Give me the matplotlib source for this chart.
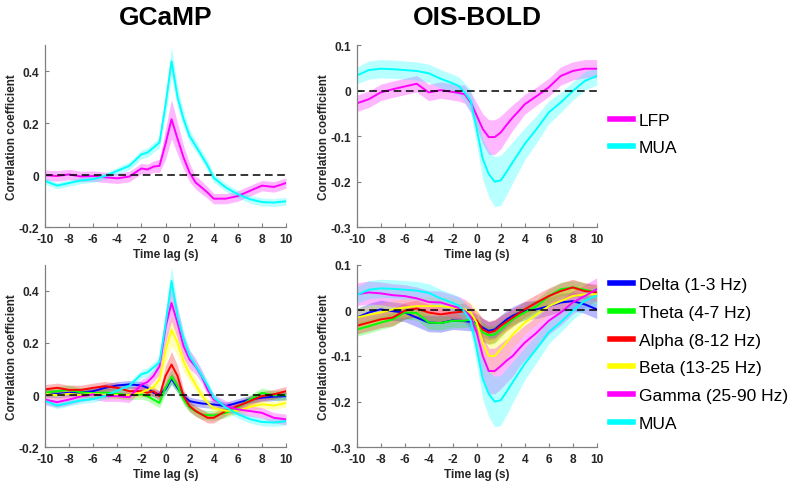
import matplotlib
matplotlib.use("Agg")
import matplotlib.pyplot as plt
from matplotlib.lines import Line2D
import numpy as np

plt.rcParams['font.family'] = ['Liberation Sans', 'DejaVu Sans']

# ---------------- data ----------------
lag = [-10, -9, -8, -7, -6, -5, -4, -3, -2, -1.5, -1, -0.5, 0, 0.5, 1, 1.5, 2, 2.5, 3, 3.5, 4, 5, 6, 7, 8, 9, 10]

# GCaMP – top
gc_lfp = [0.0, -0.003, 0.003, -0.005, -0.003, -0.008, -0.012, -0.005, 0.026, 0.022, 0.033, 0.036, 0.12, 0.215, 0.14, 0.068, 0.01, -0.028, -0.047, -0.067, -0.09, -0.09, -0.08, -0.06, -0.04, -0.045, -0.03]
gc_lfp_err = [0.02, 0.02, 0.02, 0.02, 0.02, 0.02, 0.02, 0.02, 0.02, 0.02, 0.022, 0.025, 0.06, 0.075, 0.06, 0.045, 0.035, 0.025, 0.025, 0.022, 0.02, 0.02, 0.02, 0.02, 0.02, 0.02, 0.02]
gc_mua = [-0.022, -0.04, -0.03, -0.02, -0.015, -0.003, 0.017, 0.036, 0.08, 0.087, 0.106, 0.126, 0.27, 0.437, 0.3, 0.215, 0.15, 0.113, 0.075, 0.036, -0.01, -0.047, -0.073, -0.092, -0.103, -0.105, -0.1]
gc_mua_err = [0.012, 0.012, 0.012, 0.012, 0.012, 0.012, 0.013, 0.015, 0.016, 0.018, 0.018, 0.02, 0.04, 0.055, 0.04, 0.03, 0.025, 0.02, 0.02, 0.02, 0.016, 0.015, 0.015, 0.015, 0.015, 0.015, 0.015]

# GCaMP – bottom (bands)
gc_delta = [0.009, 0.005, 0.009, 0.01, 0.015, 0.028, 0.037, 0.041, 0.037, 0.028, 0.009, 0.003, 0.022, 0.063, 0.028, -0.004, -0.023, -0.028, -0.032, -0.034, -0.036, -0.042, -0.029, -0.017, -0.01, -0.006, -0.004]
gc_delta_err = [0.015, 0.015, 0.015, 0.015, 0.015, 0.015, 0.015, 0.015, 0.015, 0.015, 0.015, 0.015, 0.018, 0.02, 0.018, 0.015, 0.015, 0.015, 0.015, 0.015, 0.015, 0.015, 0.015, 0.015, 0.015, 0.015, 0.015]
gc_theta = [0.009, 0.015, 0.02, 0.01, 0.008, 0.01, 0.005, 0.0, 0.003, -0.004, -0.017, -0.03, 0.028, 0.07, 0.034, -0.017, -0.048, -0.062, -0.074, -0.077, -0.078, -0.068, -0.048, -0.017, 0.009, -0.001, 0.0]
gc_theta_err = [0.018, 0.018, 0.018, 0.018, 0.018, 0.018, 0.018, 0.018, 0.018, 0.018, 0.018, 0.018, 0.025, 0.03, 0.025, 0.02, 0.018, 0.018, 0.018, 0.018, 0.018, 0.018, 0.018, 0.018, 0.018, 0.018, 0.018]
gc_alpha = [0.022, 0.028, 0.02, 0.02, 0.028, 0.034, 0.028, 0.015, 0.015, 0.009, 0.015, -0.004, 0.073, 0.117, 0.073, -0.004, -0.042, -0.061, -0.074, -0.087, -0.087, -0.061, -0.042, -0.023, -0.004, 0.003, 0.015]
gc_alpha_err = [0.018, 0.018, 0.018, 0.018, 0.018, 0.018, 0.018, 0.018, 0.018, 0.018, 0.018, 0.018, 0.04, 0.05, 0.04, 0.025, 0.02, 0.02, 0.02, 0.02, 0.02, 0.018, 0.018, 0.018, 0.018, 0.018, 0.018]
gc_beta = [0.005, 0.0, 0.005, 0.0, 0.005, 0.0, 0.0, 0.0, 0.01, 0.02, 0.03, 0.06, 0.17, 0.25, 0.2, 0.13, 0.08, 0.04, 0.0, -0.03, -0.05, -0.06, -0.06, -0.045, -0.035, -0.04, -0.03]
gc_beta_err = [0.015, 0.015, 0.015, 0.015, 0.015, 0.015, 0.015, 0.015, 0.015, 0.018, 0.02, 0.03, 0.05, 0.06, 0.05, 0.04, 0.03, 0.025, 0.02, 0.018, 0.015, 0.015, 0.015, 0.015, 0.015, 0.015, 0.015]
gc_gamma = [-0.017, -0.027, -0.017, -0.005, 0.003, -0.004, -0.004, -0.008, 0.04, 0.05, 0.073, 0.11, 0.26, 0.353, 0.276, 0.187, 0.136, 0.11, 0.073, 0.02, -0.017, -0.042, -0.055, -0.061, -0.068, -0.087, -0.093]
gc_gamma_err = [0.02, 0.02, 0.02, 0.02, 0.02, 0.02, 0.02, 0.02, 0.02, 0.02, 0.022, 0.03, 0.06, 0.07, 0.06, 0.045, 0.035, 0.03, 0.025, 0.022, 0.02, 0.02, 0.02, 0.02, 0.02, 0.02, 0.02]

# OIS-BOLD – top
ob_lfp = [-0.028, -0.019, -0.004, 0.003, 0.009, 0.015, -0.004, 0.001, -0.003, -0.005, -0.008, -0.026, -0.055, -0.084, -0.102, -0.102, -0.092, -0.075, -0.059, -0.045, -0.03, -0.012, 0.007, 0.032, 0.043, 0.048, 0.048]
ob_lfp_err = [0.018, 0.018, 0.018, 0.018, 0.018, 0.018, 0.018, 0.018, 0.018, 0.018, 0.02, 0.022, 0.028, 0.033, 0.038, 0.038, 0.036, 0.032, 0.028, 0.025, 0.022, 0.02, 0.02, 0.02, 0.02, 0.02, 0.02]
ob_mua = [0.033, 0.045, 0.048, 0.047, 0.045, 0.043, 0.038, 0.026, 0.016, 0.01, -0.004, -0.023, -0.084, -0.15, -0.183, -0.2, -0.197, -0.178, -0.157, -0.137, -0.117, -0.084, -0.048, -0.026, -0.001, 0.021, 0.032]
ob_mua_err = [0.018, 0.02, 0.02, 0.02, 0.02, 0.02, 0.02, 0.02, 0.02, 0.02, 0.02, 0.025, 0.035, 0.045, 0.05, 0.055, 0.055, 0.05, 0.045, 0.04, 0.035, 0.03, 0.025, 0.022, 0.02, 0.02, 0.02]

# OIS-BOLD – bottom (bands)
ob_delta = [-0.016, -0.005, 0.002, -0.002, -0.005, -0.016, -0.027, -0.028, -0.022, -0.023, -0.024, -0.025, -0.027, -0.038, -0.045, -0.042, -0.031, -0.02, -0.012, -0.006, -0.001, 0.002, 0.009, 0.017, 0.02, 0.013, 0.002]
ob_delta_err = [0.02, 0.02, 0.02, 0.02, 0.02, 0.02, 0.02, 0.02, 0.02, 0.02, 0.02, 0.02, 0.02, 0.02, 0.02, 0.02, 0.02, 0.02, 0.02, 0.02, 0.02, 0.02, 0.02, 0.02, 0.02, 0.02, 0.02]
ob_theta = [-0.042, -0.035, -0.027, -0.02, -0.005, -0.006, -0.027, -0.028, -0.023, -0.023, -0.023, -0.02, -0.034, -0.048, -0.055, -0.053, -0.042, -0.03, -0.02, -0.012, -0.005, 0.009, 0.031, 0.046, 0.05, 0.045, 0.039]
ob_theta_err = [0.015, 0.015, 0.015, 0.015, 0.015, 0.015, 0.015, 0.015, 0.015, 0.015, 0.015, 0.015, 0.018, 0.02, 0.02, 0.02, 0.018, 0.015, 0.015, 0.015, 0.015, 0.015, 0.015, 0.015, 0.015, 0.015, 0.015]
ob_alpha = [-0.034, -0.027, -0.02, -0.016, -0.001, 0.004, -0.005, -0.009, -0.005, -0.004, -0.002, -0.015, -0.023, -0.042, -0.049, -0.045, -0.034, -0.025, -0.016, -0.007, 0.002, 0.017, 0.031, 0.042, 0.05, 0.042, 0.039]
ob_alpha_err = [0.018, 0.018, 0.018, 0.018, 0.018, 0.018, 0.018, 0.018, 0.018, 0.018, 0.018, 0.02, 0.022, 0.025, 0.025, 0.025, 0.022, 0.02, 0.02, 0.018, 0.018, 0.018, 0.018, 0.018, 0.018, 0.018, 0.018]
ob_beta = [-0.016, -0.01, -0.005, 0.002, 0.006, 0.009, 0.009, 0.009, 0.006, 0.004, 0.002, -0.005, -0.027, -0.071, -0.1, -0.1, -0.085, -0.07, -0.053, -0.04, -0.027, -0.009, 0.009, 0.02, 0.031, 0.035, 0.035]
ob_beta_err = [0.02, 0.02, 0.02, 0.02, 0.02, 0.02, 0.02, 0.02, 0.02, 0.02, 0.02, 0.022, 0.028, 0.035, 0.04, 0.04, 0.038, 0.035, 0.03, 0.028, 0.025, 0.022, 0.02, 0.02, 0.02, 0.02, 0.02]
ob_gamma = [0.035, 0.039, 0.037, 0.033, 0.031, 0.026, 0.018, 0.017, 0.009, 0.005, -0.001, -0.015, -0.049, -0.1, -0.133, -0.133, -0.122, -0.11, -0.1, -0.085, -0.071, -0.049, -0.023, -0.005, 0.017, 0.031, 0.046]
ob_gamma_err = [0.025, 0.025, 0.025, 0.025, 0.025, 0.025, 0.025, 0.025, 0.025, 0.025, 0.025, 0.028, 0.035, 0.045, 0.05, 0.05, 0.05, 0.048, 0.045, 0.04, 0.038, 0.035, 0.03, 0.028, 0.025, 0.025, 0.025]

top_labels = ['LFP', 'MUA']
band_labels = ['Delta (1-3 Hz)', 'Theta (4-7 Hz)', 'Alpha (8-12 Hz)', 'Beta (13-25 Hz)', 'Gamma (25-90 Hz)', 'MUA']
xticks = [-10, -8, -6, -4, -2, 0, 2, 4, 6, 8, 10]
gc_yticks = [-0.2, 0, 0.2, 0.4]
gc_yticklabels = ['-0.2', '0', '0.2', '0.4']
ob_yticks = [-0.3, -0.2, -0.1, 0, 0.1]
ob_yticklabels = ['-0.3', '-0.2', '-0.1', '0', '0.1']

# ---------------- style ----------------
C_MAG = '#FF00FF'
C_CYA = '#00FFFF'
C_BLU = '#0000FF'
C_GRN = '#00FF00'
C_RED = '#FF0000'
C_YEL = '#FFFF00'
SPINE = '#808080'
ALPHA = 0.28
LW = 1.4

fig = plt.figure(figsize=(8.0, 4.89), dpi=100)

ax_tl = fig.add_axes([0.05625, 0.5331, 0.30125, 0.3728])
ax_tr = fig.add_axes([0.4459, 0.5331, 0.3000, 0.3728])
ax_bl = fig.add_axes([0.05625, 0.0832, 0.30125, 0.3737])
ax_br = fig.add_axes([0.4459, 0.0832, 0.3000, 0.3737])

x = np.array(lag)


def draw(ax, series, ylim, yticks, yticklabels, xlabel):
    for y, e, c in series:
        y = np.array(y)
        e = np.array(e)
        ax.fill_between(x, y - e, y + e, color=c, alpha=ALPHA, lw=0)
        ax.plot(x, y, color=c, lw=LW)
    ax.plot([-10, 10], [0, 0], color='black', lw=1.1, ls=(0, (5, 3)))
    ax.set_xlim(-10, 10)
    ax.set_ylim(*ylim)
    ax.set_xticks(xticks)
    ax.set_xticklabels([str(t) for t in xticks])
    ax.set_yticks(yticks)
    ax.set_yticklabels(yticklabels)
    for s in ['top', 'right']:
        ax.spines[s].set_visible(False)
    for s in ['left', 'bottom']:
        ax.spines[s].set_color(SPINE)
        ax.spines[s].set_linewidth(0.9)
    ax.tick_params(direction='in', length=3, width=0.8, color=SPINE,
                   labelsize=8.6, labelcolor='#262626', pad=4)
    for lab in ax.get_xticklabels() + ax.get_yticklabels():
        lab.set_fontweight('bold')
    ax.set_ylabel('Correlation coefficient', fontsize=8.5, fontweight='bold',
                  color='#262626', labelpad=0.5)
    if xlabel:
        ax.set_xlabel('Time lag (s)', fontsize=8.5, fontweight='bold',
                      color='#262626', labelpad=2)


draw(ax_tl, [(gc_lfp, gc_lfp_err, C_MAG), (gc_mua, gc_mua_err, C_CYA)],
     (-0.2, 0.5), gc_yticks, gc_yticklabels, True)
draw(ax_tr, [(ob_lfp, ob_lfp_err, C_MAG), (ob_mua, ob_mua_err, C_CYA)],
     (-0.3, 0.1), ob_yticks, ob_yticklabels, True)
draw(ax_bl, [(gc_delta, gc_delta_err, C_BLU), (gc_theta, gc_theta_err, C_GRN),
             (gc_alpha, gc_alpha_err, C_RED), (gc_beta, gc_beta_err, C_YEL),
             (gc_gamma, gc_gamma_err, C_MAG), (gc_mua, gc_mua_err, C_CYA)],
     (-0.2, 0.5), gc_yticks, gc_yticklabels, True)
draw(ax_br, [(ob_delta, ob_delta_err, C_BLU), (ob_theta, ob_theta_err, C_GRN),
             (ob_alpha, ob_alpha_err, C_RED), (ob_beta, ob_beta_err, C_YEL),
             (ob_gamma, ob_gamma_err, C_MAG), (ob_mua, ob_mua_err, C_CYA)],
     (-0.3, 0.1), ob_yticks, ob_yticklabels, True)

fig.text(165.5 / 800, 1 - 18 / 489, 'GCaMP', ha='center', va='center',
         fontsize=19, fontweight='bold')
fig.text(477 / 800, 1 - 18 / 489, 'OIS-BOLD', ha='center', va='center',
         fontsize=19, fontweight='bold')

# legends
h_top = [Line2D([], [], color=c, lw=4) for c in [C_MAG, C_CYA]]
fig.legend(h_top, top_labels, loc='center left',
           bbox_to_anchor=(610 / 800, 1 - 135 / 489), frameon=False,
           fontsize=12.5, handlelength=1.35, handletextpad=0.3,
           labelspacing=0.72, borderaxespad=0, borderpad=0)
h_bot = [Line2D([], [], color=c, lw=4) for c in [C_BLU, C_GRN, C_RED, C_YEL, C_MAG, C_CYA]]
fig.legend(h_bot, band_labels, loc='center left',
           bbox_to_anchor=(610 / 800, 1 - 355 / 489), frameon=False,
           fontsize=12.5, handlelength=1.35, handletextpad=0.3,
           labelspacing=0.72, borderaxespad=0, borderpad=0)

fig.savefig('out.png', dpi=100)
